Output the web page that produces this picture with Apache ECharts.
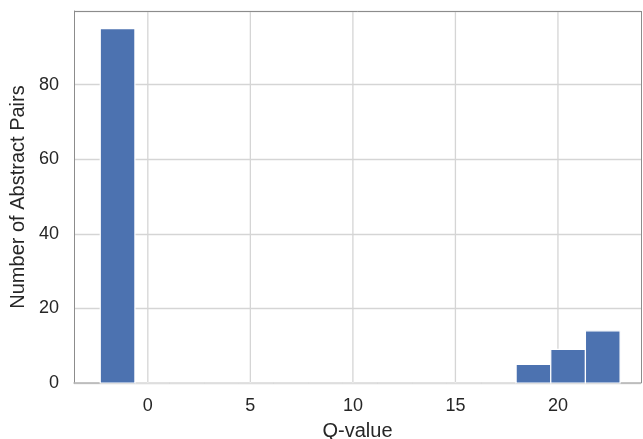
<!DOCTYPE html>
<html>
<head>
<meta charset="utf-8">
<script src="https://cdn.jsdelivr.net/npm/echarts@6/dist/echarts.min.js"></script>
<style>
  html, body { margin: 0; padding: 0; background: #fff; }
  #chart { width: 643px; height: 439px; }
</style>
</head>
<body>
<div id="chart"></div>
<script>
// Histogram of Q-values: 15 equal-width bins
const binEdges = [-2.32, -0.63, 1.06, 2.75, 4.44, 6.13, 7.82, 9.51, 11.20,
                  12.89, 14.58, 16.27, 17.96, 19.65, 21.34, 23.03];
const counts = [95, 0, 0, 0, 0, 0, 0, 0, 0, 0, 0, 0, 5, 9, 14];
const xTicks = [0, 5, 10, 15, 20];
const yTicks = [0, 20, 40, 60, 80];

const X_MIN = -3.6, X_MAX = 24.05, Y_MAX = 99.75;
const bins = counts.map((c, i) => [binEdges[i], binEdges[i + 1], c]);

const chart = echarts.init(document.getElementById('chart'));
const font = '"Liberation Sans", Arial, sans-serif';
const gridColor = '#d5d5d5';
const frameColor = '#8c8c8c';

chart.setOption({
  animation: false,
  grid: { left: 74, right: 2, top: 11, bottom: 56, containLabel: false, outerBoundsMode: 'none' },
  xAxis: {
    type: 'value',
    min: X_MIN,
    max: X_MAX,
    name: 'Q-value',
    nameLocation: 'middle',
    nameGap: 38,
    nameTextStyle: { fontFamily: font, fontSize: 20, color: '#262626' },
    axisLine: { show: true, onZero: false, lineStyle: { color: '#b5b5b5', width: 1.5 } },
    axisTick: { show: false, customValues: xTicks },
    axisLabel: {
      fontFamily: font, fontSize: 18, color: '#262626', margin: 14,
      customValues: xTicks
    },
    splitLine: { show: false }
  },
  yAxis: {
    type: 'value',
    min: 0,
    max: Y_MAX,
    interval: 20,
    name: 'Number of Abstract Pairs',
    nameLocation: 'middle',
    nameGap: 44,
    nameTextStyle: { fontFamily: font, fontSize: 20, color: '#262626' },
    axisLine: { show: true, onZero: false, lineStyle: { color: frameColor, width: 1 } },
    axisTick: { show: false },
    axisLabel: {
      fontFamily: font, fontSize: 18, color: '#262626', margin: 15,
      customValues: yTicks
    },
    splitLine: { show: true, lineStyle: { color: gridColor, width: 1.3 } }
  },
  series: [
    {
      // vertical grid lines at the x tick positions, behind the bars
      type: 'custom',
      silent: true,
      z: 1,
      data: xTicks.map(v => [v]),
      encode: { x: 0 },
      renderItem: function (params, api) {
        const top = api.coord([api.value(0), Y_MAX]);
        const bottom = api.coord([api.value(0), 0]);
        return {
          type: 'line',
          shape: { x1: top[0], y1: top[1], x2: bottom[0], y2: bottom[1] },
          style: { stroke: gridColor, lineWidth: 1.3 }
        };
      }
    },
    {
      type: 'custom',
      z: 3,
      data: bins,
      encode: { x: [0, 1], y: 2 },
      renderItem: function (params, api) {
        const p0 = api.coord([api.value(0), 0]);
        const p1 = api.coord([api.value(1), api.value(2)]);
        return {
          type: 'rect',
          shape: { x: p0[0], y: p1[1], width: p1[0] - p0[0], height: p0[1] - p1[1] },
          style: { fill: '#4c72b0', stroke: '#ffffff', lineWidth: 1.2 }
        };
      }
    },
    {
      // top and right frame of the plot area
      type: 'line',
      data: [],
      silent: true,
      z: 4,
      markLine: {
        symbol: 'none',
        silent: true,
        label: { show: false },
        lineStyle: { color: frameColor, type: 'solid', width: 1 },
        data: [
          [{ coord: [X_MIN, Y_MAX] }, { coord: [X_MAX, Y_MAX] }],
          [{ coord: [X_MAX, 0] }, { coord: [X_MAX, Y_MAX] }]
        ]
      }
    }
  ]
});
</script>
</body>
</html>
